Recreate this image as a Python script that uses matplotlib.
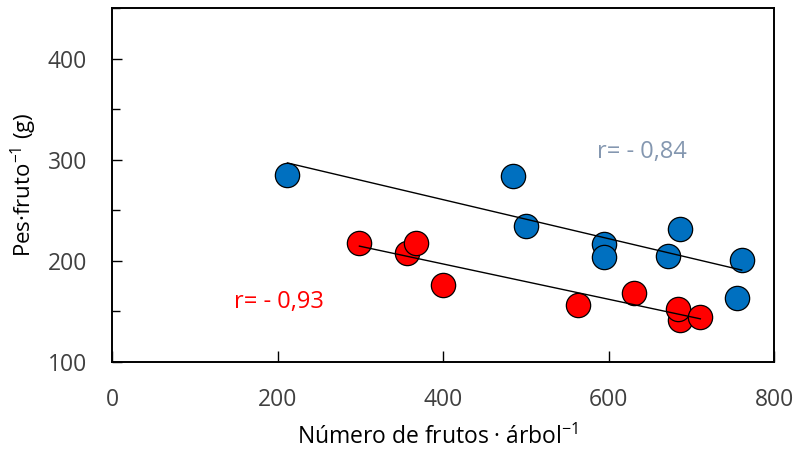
import numpy as np
import matplotlib
matplotlib.use("Agg")
import matplotlib.pyplot as plt
from matplotlib.ticker import MultipleLocator

plt.rcParams['font.family'] = ['Open Sans', 'DejaVu Sans']

# Data
blue_x = [212, 485, 500, 594, 594, 686, 672, 761, 755]
blue_y = [285, 284, 234, 216, 204, 231, 205, 201, 163]
red_x = [299, 356, 367, 400, 563, 631, 686, 684, 711]
red_y = [217, 208, 217, 176, 156, 168, 141, 152, 144]
blue_r_label = "r= - 0,84"
red_r_label = "r= - 0,93"
x_ticks = [0, 200, 400, 600, 800]
y_ticks = [100, 200, 300, 400]

BLUE = '#0070C0'
RED = '#FF0000'
TICKC = '#404040'

fig = plt.figure(figsize=(7.97, 4.5), dpi=100)
ax = fig.add_axes([112/797, 1-361.7/450, 662/797, (361.7-8)/450])

ax.scatter(blue_x, blue_y, s=17.5**2, c=BLUE, edgecolors='black', linewidths=0.9, zorder=3)
ax.scatter(red_x, red_y, s=17.5**2, c=RED, edgecolors='black', linewidths=0.9, zorder=3)

for xs, ys in ((blue_x, blue_y), (red_x, red_y)):
    xs = np.array(xs, float); ys = np.array(ys, float)
    m, b = np.polyfit(xs, ys, 1)
    xx = np.array([xs.min(), xs.max()])
    ax.plot(xx, m*xx + b, color='black', lw=1.0, zorder=4)

ax.text(641, 308, blue_r_label, color='#8497B0', fontsize=17, ha='center', va='center')
ax.text(202, 159, red_r_label, color=RED, fontsize=17, ha='center', va='center')

ax.set_xlim(0, 800)
ax.set_ylim(100, 450)
ax.set_xticks(x_ticks)
ax.set_yticks(y_ticks)
ax.yaxis.set_minor_locator(MultipleLocator(50))
ax.tick_params(axis='both', direction='in', colors='black', labelcolor=TICKC, labelsize=16.5, width=1.0)
ax.tick_params(axis='y', which='major', length=7, pad=18)
ax.tick_params(axis='y', which='minor', length=6, width=1.0, direction='in')
ax.tick_params(axis='x', which='major', length=8, pad=19)
for s in ax.spines.values():
    s.set_linewidth(1.4)

ax.set_xlabel("Número de frutos · árbol$^{\\mathregular{-1}}$", fontsize=16.5, color='black')
ax.xaxis.set_label_coords((438-112)/662, (361.7-437)/353.7)
ax.xaxis.label.set_va('center')
ax.set_ylabel("Pes·fruto$^{\\mathregular{-1}}$ (g)", fontsize=16, color='black')
ax.yaxis.set_label_coords((24-112)/662, 0.5)
ax.yaxis.label.set_va('center')

fig.savefig('out.png', dpi=100)
